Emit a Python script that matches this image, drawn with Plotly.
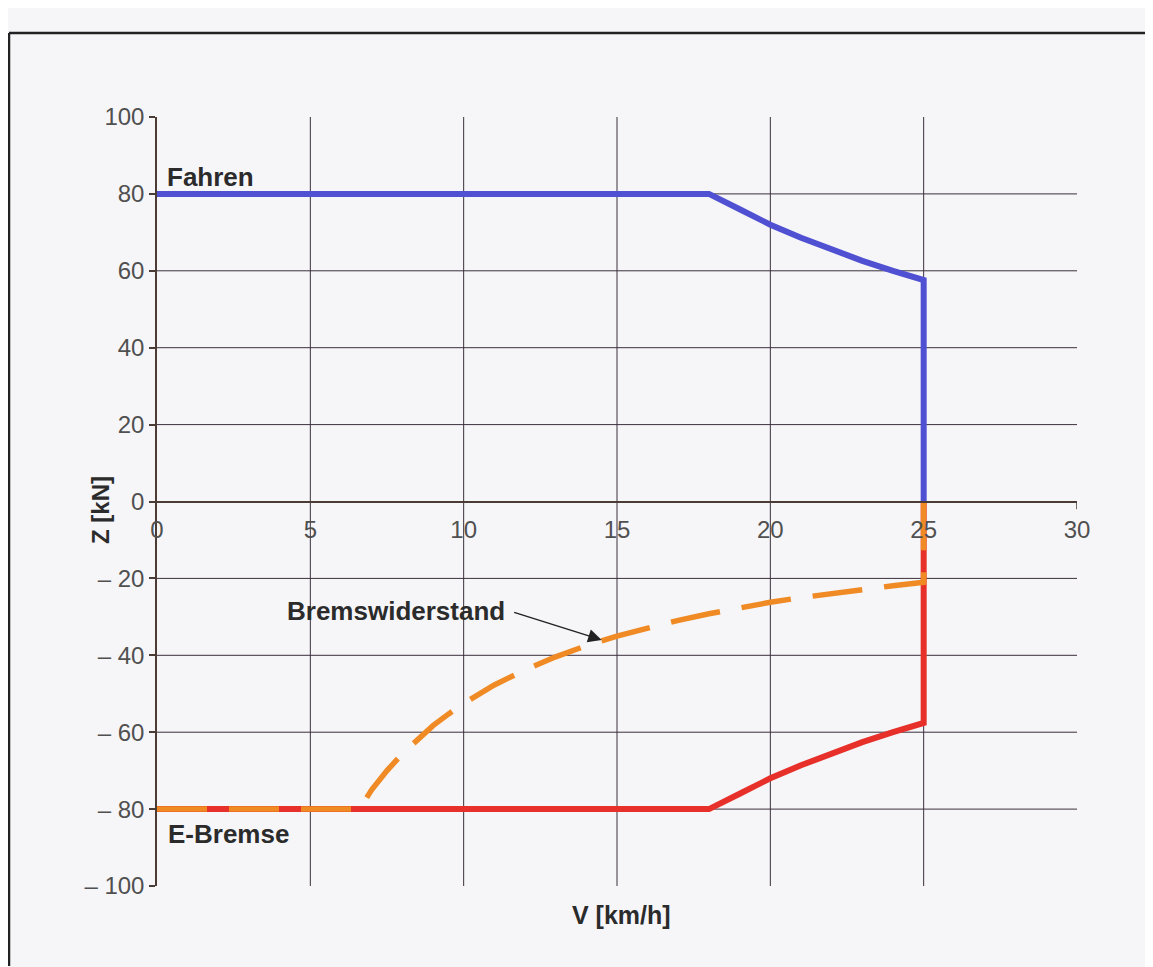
import plotly.graph_objects as go

# ---- data ----
v_fahren = [0, 18, 19, 20, 21, 22, 23, 24, 25, 25]
z_fahren = [80, 80, 76, 72, 68.6, 65.5, 62.6, 60, 57.6, 0]

v_ebremse = [0, 18, 19, 20, 21, 22, 23, 24, 25, 25]
z_ebremse = [-80, -80, -76, -72, -68.6, -65.5, -62.6, -60, -57.6, 0]

v_bw = [0, 6.6, 7, 7.5, 8, 8.5, 9, 9.5, 10, 11, 12, 13, 14, 15, 16, 17, 18, 19, 20, 21, 22, 23, 24, 25, 25]
z_bw = [-80, -80, -75, -70, -65.6, -61.8, -58.3, -55.3, -52.5, -47.7, -43.8, -40.4, -37.5, -35, -32.8,
        -30.9, -29.2, -27.6, -26.2, -25, -23.9, -22.8, -21.9, -21, 0]

x_ticks = [0, 5, 10, 15, 20, 25, 30]
x_ticklabels = ["0", "5", "10", "15", "20", "25", "30"]
y_ticks = [100, 80, 60, 40, 20, 0, -20, -40, -60, -80, -100]
y_ticklabels = ["100", "80", "60", "40", "20", "0", "\u2013 20", "\u2013 40", "\u2013 60", "\u2013 80", "\u2013 100"]
x_grid = [5, 10, 15, 20, 25]
y_grid = [80, 60, 40, 20, -20, -40, -60, -80]

FONT = "Liberation Sans, Arial, Helvetica, sans-serif"
GRID = "#3b2f3b"
AXIS = "#4a3c34"

fig = go.Figure()
fig.add_trace(go.Scatter(x=v_fahren, y=z_fahren, mode="lines",
                         line=dict(color="#5050d2", width=6), name="Fahren"))
fig.add_trace(go.Scatter(x=v_ebremse, y=z_ebremse, mode="lines",
                         line=dict(color="#e8302a", width=6), name="E-Bremse"))
fig.add_trace(go.Scatter(x=v_bw, y=z_bw, mode="lines",
                         line=dict(color="#ef8a24", width=5.5, dash="50px,22px"),
                         name="Bremswiderstand"))

shapes = []
for gx in x_grid:
    shapes.append(dict(type="line", xref="x", yref="y", x0=gx, x1=gx, y0=-100, y1=100,
                       line=dict(color=GRID, width=1), layer="below"))
for gy in y_grid:
    shapes.append(dict(type="line", xref="x", yref="y", x0=0, x1=30, y0=gy, y1=gy,
                       line=dict(color=GRID, width=1), layer="below"))
# small end tick of the x axis at 30
shapes.append(dict(type="line", xref="x", yref="y", x0=30, x1=30, y0=0, y1=-2,
                   line=dict(color=AXIS, width=1.5)))
# outer frame (page offset of 8 px is accounted for)
fx0, fx1 = (9 - 157) / 920, (1148 - 157) / 920
fy1, fy0 = (886 - 33) / 769, (886 - 966) / 769
shapes.append(dict(type="line", xref="paper", yref="paper", x0=fx0, x1=fx0, y0=fy0, y1=fy1,
                   line=dict(color="#222222", width=2.5)))
shapes.append(dict(type="line", xref="paper", yref="paper", x0=fx0, x1=fx1, y0=fy1, y1=fy1,
                   line=dict(color="#222222", width=2.5)))
shapes.append(dict(type="line", xref="paper", yref="paper", x0=fx1, x1=fx1, y0=fy0, y1=fy1,
                   line=dict(color="#d8d8dc", width=1.5)))

bold = dict(family=FONT, size=26, color="#2b2b2b")
annotations = [
    dict(x=0.25, y=84.5, xref="x", yref="y", text="<b>Fahren</b>", showarrow=False,
         xanchor="left", yanchor="middle", font=bold),
    dict(x=0.28, y=-86.5, xref="x", yref="y", text="<b>E-Bremse</b>", showarrow=False,
         xanchor="left", yanchor="middle", font=bold),
    dict(x=11.4, y=-28.6, xref="x", yref="y", text="<b>Bremswiderstand</b>", showarrow=False,
         xanchor="right", yanchor="middle", font=bold),
    dict(x=14.5, y=-36, xref="x", yref="y", text="", showarrow=True, ax=-89, ay=-28,
         arrowhead=2, arrowsize=1.8, arrowwidth=1.5, arrowcolor="#222222"),
    dict(x=(100 - 157) / 920, y=(886 - 510) / 769, xref="paper", yref="paper",
         text="<b>Z [kN]</b>", showarrow=False, textangle=-90,
         xanchor="center", yanchor="middle", font=dict(family=FONT, size=24, color="#2b2b2b")),
    dict(x=(621 - 157) / 920, y=(886 - 915) / 769, xref="paper", yref="paper",
         text="<b>V [km/h]</b>", showarrow=False,
         xanchor="center", yanchor="middle", font=dict(family=FONT, size=25, color="#2b2b2b")),
]

fig.update_layout(
    width=1145, height=959, autosize=False,
    margin=dict(l=149, r=76, t=109, b=81),
    paper_bgcolor="#f6f6f9", plot_bgcolor="#f6f6f9",
    showlegend=False,
    shapes=shapes, annotations=annotations,
    xaxis=dict(range=[0, 30], tickvals=x_ticks, ticktext=x_ticklabels,
               showgrid=False, zeroline=False, showline=True, linecolor=AXIS, linewidth=1.5,
               anchor="free", position=0.5, ticks="outside", ticklen=7,
               tickcolor="rgba(0,0,0,0)",
               tickfont=dict(family=FONT, size=24, color="#505050")),
    yaxis=dict(range=[-100, 100], tickvals=y_ticks, ticktext=y_ticklabels,
               showgrid=False, zeroline=False, showline=True, linecolor=AXIS, linewidth=1.5,
               ticks="outside", ticklen=6, tickcolor=AXIS, tickwidth=1.5,
               tickfont=dict(family=FONT, size=24, color="#505050")),
)

fig.write_html("out.html")
